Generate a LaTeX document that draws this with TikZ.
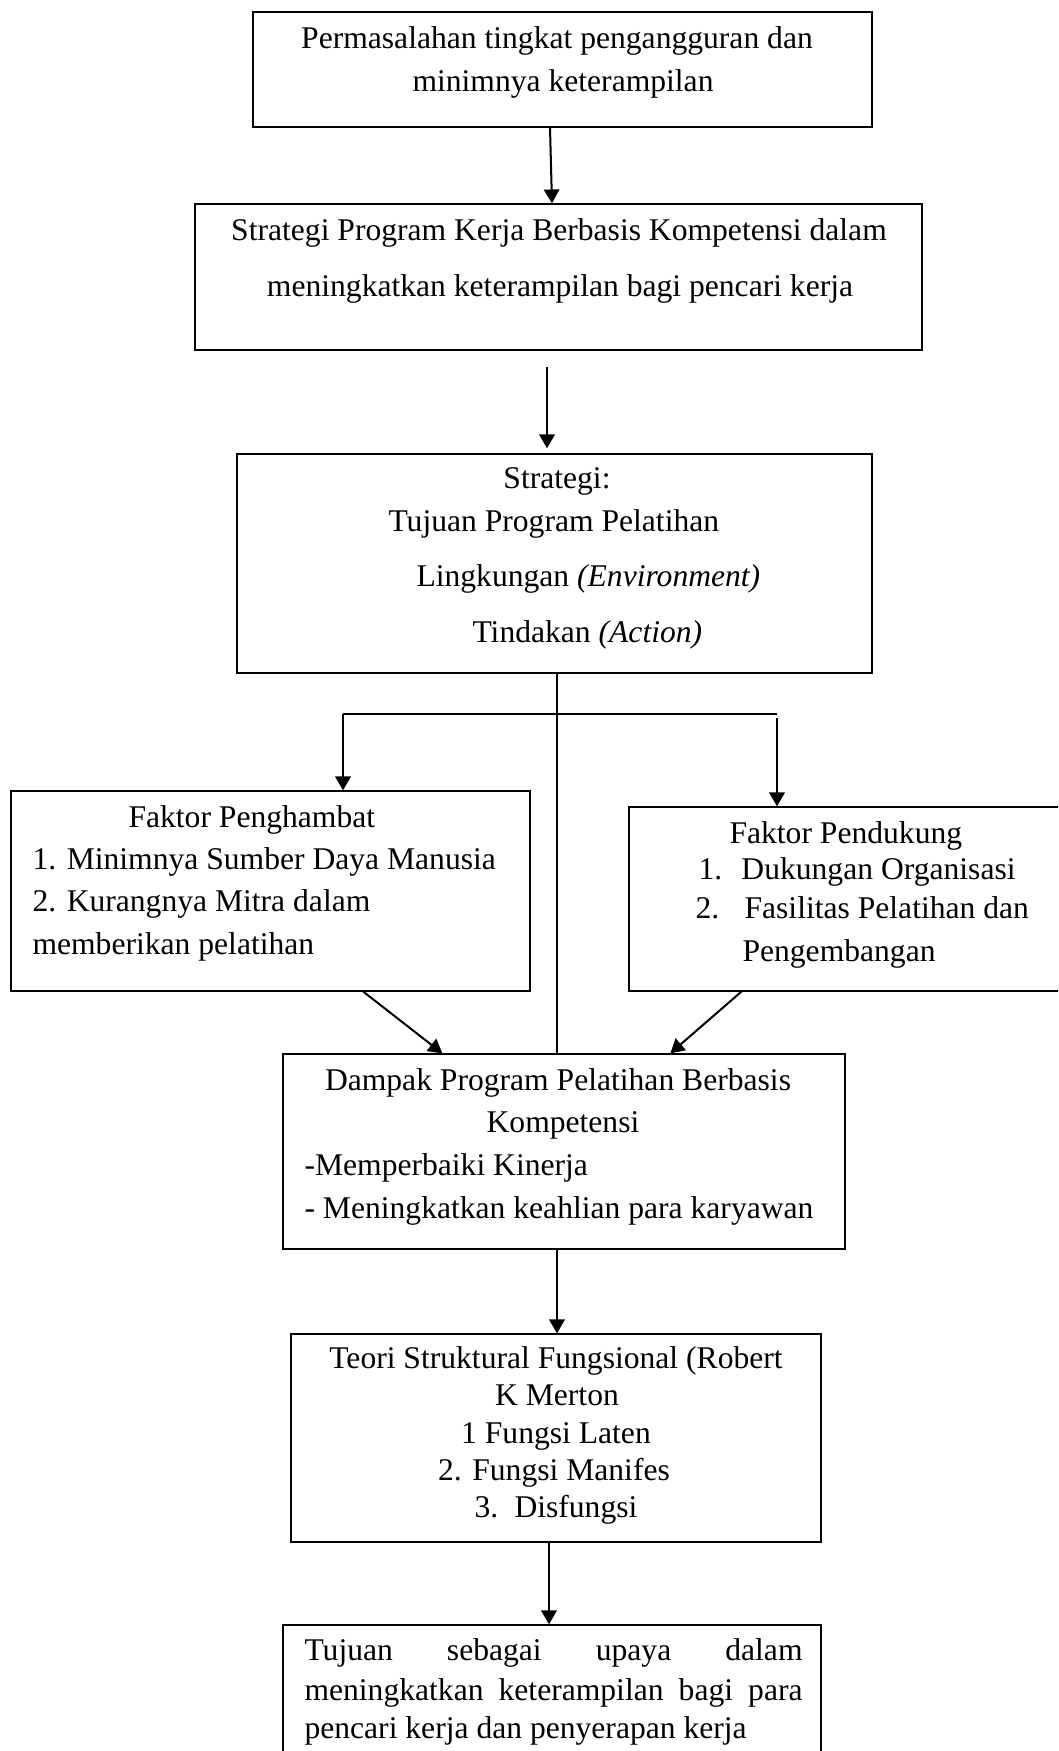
\documentclass[tikz,border=0pt]{standalone}
\usepackage{fontspec}
\setmainfont{Liberation Serif}
\usetikzlibrary{arrows.meta,fit,calc}
\tikzset{
  box/.style={draw=black, line width=0.5pt, inner sep=0pt, rectangle},
  txt/.style={inner sep=0pt, font=\fontsize{11.85pt}{14pt}\selectfont},
  arr/.style={line width=0.75pt, -{Triangle[length=5.2pt,width=5.8pt]}},
  thinline/.style={line width=0.5pt},
  branch/.style={line width=0.75pt}
}
\begin{document}
\begin{tikzpicture}[x=0.375pt,y=-0.375pt]
\useasboundingbox (0,0) rectangle (1058,1751);
\clip (0,0) rectangle (1058,1751);
\fill[white] (0,0) rectangle (1058,1751);
% boxes
\node[box, fit={(253,12) (872,127)}] (b1) {};
\node[box, fit={(195,204) (922,350)}] (b2) {};
\node[box, fit={(237,454) (872,673)}] (b3) {};
\node[box, fit={(11,791) (530,991)}] (bL) {};
\node[box, fit={(629,807) (1075,991)}] (bR) {};
\node[box, fit={(283,1054) (845,1249)}] (bD) {};
\node[box, fit={(291,1334) (821,1542)}] (bT) {};
\node[box, fit={(283,1625) (821,1775)}] (bE) {};
% texts
\node[txt, anchor=mid] (t1a) at (557,42) {Permasalahan tingkat pengangguran dan};
\node[txt, anchor=mid] (t1b) at (563,85) {minimnya keterampilan};
\node[txt, anchor=mid] (t2a) at (559,234) {Strategi Program Kerja Berbasis Kompetensi dalam};
\node[txt, anchor=mid] (t2b) at (560,290) {meningkatkan keterampilan bagi pencari kerja};
\node[txt, anchor=mid] (t3a) at (557,482) {Strategi:};
\node[txt, anchor=mid west] (t3b) at (388,525) {Tujuan Program Pelatihan};
\node[txt, anchor=mid west] (t3c) at (416,580) {Lingkungan \textit{(Environment)}};
\node[txt, anchor=mid west] (t3d) at (472,636) {Tindakan \textit{(Action)}};
\node[txt, anchor=mid west] (tLa) at (128,821) {Faktor Penghambat};
\node[txt, anchor=mid west] (tLb) at (32,863) {1. Minimnya Sumber Daya Manusia};
\node[txt, anchor=mid west] (tLc) at (32,905) {2. Kurangnya Mitra dalam};
\node[txt, anchor=mid west] (tLd) at (32,948) {memberikan pelatihan};
\node[txt, anchor=mid west] (tRa) at (729,837) {Faktor Pendukung};
\node[txt, anchor=mid west] (tRb) at (698,873) {\makebox[16.1pt][l]{1.}Dukungan Organisasi};
\node[txt, anchor=mid west] (tRc) at (695,912) {\makebox[18.4pt][l]{2.}Fasilitas Pelatihan dan};
\node[txt, anchor=mid west] (tRd) at (742,955) {Pengembangan};
\node[txt, anchor=mid] (tDa) at (558,1084) {Dampak Program Pelatihan Berbasis};
\node[txt, anchor=mid] (tDb) at (563,1126) {Kompetensi};
\node[txt, anchor=mid west] (tDc) at (304,1169) {-Memperbaiki Kinerja};
\node[txt, anchor=mid west] (tDd) at (304,1212) {- Meningkatkan keahlian para karyawan};
\node[txt, anchor=mid] (tTa) at (556,1362) {Teori Struktural Fungsional (Robert};
\node[txt, anchor=mid] (tTb) at (557,1399) {K Merton};
\node[txt, anchor=mid] (tTc) at (556,1437) {1 Fungsi Laten};
\node[txt, anchor=mid] (tTd) at (554,1474) {2. Fungsi Manifes};
\node[txt, anchor=mid west] (tTe) at (474,1511) {\makebox[15pt][l]{3.}Disfungsi};
\node[txt, anchor=mid west] (tEa) at (304,1654) {\makebox[186.75pt][s]{Tujuan sebagai upaya dalam}};
\node[txt, anchor=mid west] (tEb) at (304,1694) {\makebox[186.75pt][s]{meningkatkan keterampilan bagi para}};
\node[txt, anchor=mid west] (tEc) at (304,1732) {pencari kerja dan penyerapan kerja};
% connectors
\draw[arr] ($(b1.south)+(-12.5,0)$) -- ($(b2.north)+(-6.5,0)$);
\draw[arr] ($(b2.south)+(-11.5,16)$) -- ($(b3.north)+(-7.5,-5)$);
\draw[thinline] ($(b3.south)+(2.5,0)$) -- ($(bD.north)+(-7,0)$);
\coordinate (jL) at (343,714);
\coordinate (jR) at (777,714);
\coordinate (jR2) at (777,718);
\draw[branch] (jL) -- (jR);
\draw[arr] (jL) -- (bL.north -| jL);
\draw[arr] (jR2) -- (bR.north -| jR2);
\draw[arr] ($(bL.south west)+(353,0)$) -- ($(bD.north west)+(160,0)$);
\draw[arr] ($(bR.south west)+(113,0)$) -- ($(bD.north west)+(388,0)$);
\draw[arr] ($(bD.south)+(-7,0)$) -- ($(bT.north)+(1,0)$);
\draw[arr] ($(bT.south)+(-7,0)$) -- ($(bE.north)+(-3,0)$);
\end{tikzpicture}
\end{document}
